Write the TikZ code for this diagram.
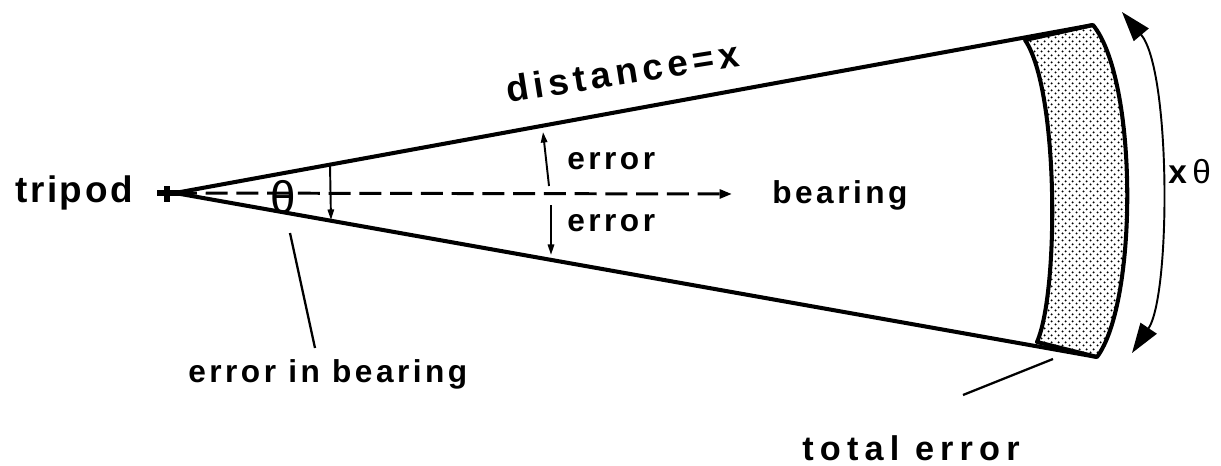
\documentclass[tikz,border=0pt]{standalone}
\usepackage{fontspec}
\setmainfont{Liberation Sans}[LetterSpace=7,UprightFont=* Bold]
\newfontfamily\regfont{Liberation Sans}
\usetikzlibrary{arrows.meta,patterns}
\pgfdeclarepatternformonly{mydots}{\pgfpointorigin}{\pgfpoint{4pt}{4pt}}{\pgfpoint{4pt}{4pt}}{%
  \pgfpathcircle{\pgfpoint{1pt}{1pt}}{0.7pt}%
  \pgfpathcircle{\pgfpoint{3pt}{3pt}}{0.7pt}%
  \pgfusepath{fill}}
\begin{document}
\begin{tikzpicture}[x=0.02cm,y=-0.02cm,
  heavy/.style={line width=2.3pt},
  thin/.style={line width=1.3pt},
  lbl/.style={inner sep=0pt,anchor=base west},
  small/.style={-{Triangle[length=6pt,width=3.6pt]},line width=1.1pt},
  big/.style={{Triangle[length=17pt,width=11pt]}-{Triangle[length=17pt,width=11pt]},line width=1.1pt},
  bigtext/.style={font=\fontsize{21}{25}\selectfont},
  midtext/.style={font=\fontsize{18}{22}\selectfont\addfontfeature{LetterSpace=11}}]
\useasboundingbox (0,0) rectangle (1221,466);
% key points
\coordinate (A) at (175,193);
\coordinate (TR) at (1093,25);
\coordinate (BR) at (1097,357);
\coordinate (TI) at (1025,40);
\coordinate (BI) at (1037,342);
% shaded band
\draw[heavy,pattern=mydots,line join=round]
  (TI) -- (TR) .. controls (1138,80) and (1138,302) .. (BR) -- (BI)
  .. controls (1059,292) and (1059,90) .. (TI) -- cycle;
% triangle sides
\draw[heavy] (A) -- (TR);
\draw[heavy] (A) -- (BR);
% tripod cross
\coordinate (CL) at (157,193); \coordinate (CR) at (180,193);
\coordinate (CT) at (167,186); \coordinate (CB) at (167,202);
\draw[line width=3pt] (CL) -- (CR);
\draw[line width=3pt] (CT) -- (CB);
% bearing dashed arrow
\coordinate (BE) at (732,194);
\draw[line width=1.7pt,dash pattern=on 12.5pt off 5pt,-{Triangle[length=7pt,width=5pt]}] (A) -- (BE);
% theta
\node[inner sep=0pt,font=\regfont\fontsize{26}{28}\selectfont] (th) at (283,197) {θ};
% small arrow near theta
\coordinate (s1) at (330,165); \coordinate (s2) at (331,220);
\draw[small] (s1) -- (s2);
% error arrows
\coordinate (e1) at (549,186); \coordinate (e2) at (543,132);
\coordinate (e3) at (551,205); \coordinate (e4) at (551,255);
\draw[small] (e1) -- (e2);
\draw[small] (e3) -- (e4);
% labels
\node[lbl,bigtext] (tripod) at (15,202) {tripod};
\node[lbl,midtext] (bearing) at (772,203) {bearing};
\node[lbl,midtext] (err1) at (567,170) {error};
\node[lbl,midtext] (err2) at (567,232) {error};
\node[lbl,font=\fontsize{21}{25}\selectfont\addfontfeature{LetterSpace=13},rotate=9] (dist) at (508,103) {distance=x};
\node[lbl,midtext] (eib) at (188,382) {error in bearing};
\node[lbl,font=\fontsize{19.5}{23}\selectfont\addfontfeature{LetterSpace=18}] (tot) at (802,460) {total error};
\node[lbl,font=\fontsize{19}{22}\selectfont] (xth) at (1168,183) {x\,{\regfont θ}};
% leader lines
\coordinate (l1) at (290,233); \coordinate (l2) at (315,348);
\draw[thin] (l1) -- (l2);
\coordinate (l3) at (963,395); \coordinate (l4) at (1053,359);
\draw[thin] (l3) -- (l4);
% big arc arrow
\coordinate (a1) at (1122,12); \coordinate (a2) at (1132,353);
\draw[big] (a1) .. controls (1171,70) and (1171,295) .. (a2);
\end{tikzpicture}
\end{document}
